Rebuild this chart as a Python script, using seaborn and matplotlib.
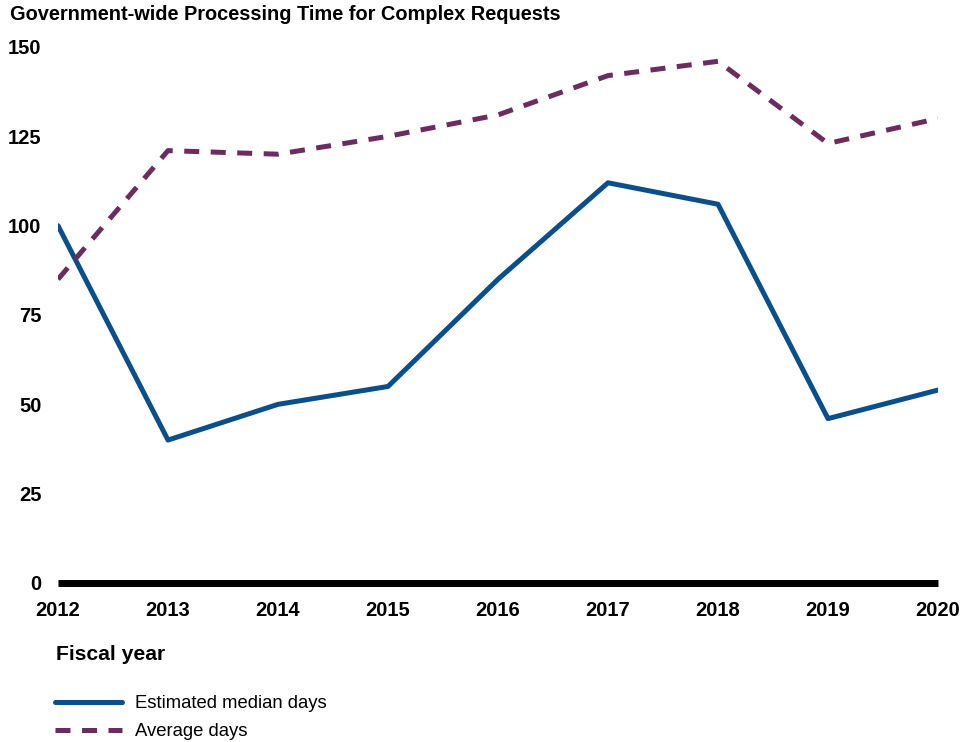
import numpy as np
import pandas as pd
import matplotlib
matplotlib.use("Agg")
import matplotlib.pyplot as plt
import seaborn as sns

# values
years = [2012, 2013, 2014, 2015, 2016, 2017, 2018, 2019, 2020]
median_days = [100, 40, 50, 55, 85, 112, 106, 46, 54]
average_days = [85, 121, 120, 125, 131, 142, 146, 123, 130]
series_names = ["Estimated median days", "Average days"]
y_ticks = [0, 25, 50, 75, 100, 125, 150]

df = pd.DataFrame({
    "year": years * 2,
    "days": median_days + average_days,
    "series": [series_names[0]] * len(years) + [series_names[1]] * len(years),
})

sns.set_theme(style="white")
plt.rcParams["font.family"] = ["Liberation Sans", "DejaVu Sans"]
plt.rcParams["text.color"] = "black"

fig = plt.figure(figsize=(9.78, 7.42), dpi=100)
ax = fig.add_axes([58 / 978, 1 - 583 / 742, 880 / 978, 536 / 742])

palette = {series_names[0]: "#0b4f8a", series_names[1]: "#6b2c5f"}
dashes = {series_names[0]: "", series_names[1]: (3, 2.3)}
sns.lineplot(data=df, x="year", y="days", hue="series", style="series",
             palette=palette, dashes=dashes, linewidth=3.6, ax=ax,
             legend=True)

ax.set_xlim(2012, 2020)
ax.set_ylim(0, 150)
ax.set_xticks(years)
ax.set_yticks(y_ticks)
ax.set_xlabel("")
ax.set_ylabel("")
for s in ["top", "right", "left"]:
    ax.spines[s].set_visible(False)
ax.spines["bottom"].set_linewidth(5)
ax.spines["bottom"].set_color("black")
ax.spines["bottom"].set_capstyle("butt")
ax.tick_params(axis="both", length=0, labelsize=14.5, colors="black")
ax.tick_params(axis="x", pad=13)
ax.tick_params(axis="y", pad=12)
for lbl in ax.get_xticklabels() + ax.get_yticklabels():
    lbl.set_fontweight("bold")

fig.text(10 / 978, 1 - 15 / 742, "Government-wide Processing Time for Complex Requests",
         fontsize=14.4, fontweight="bold", va="center", ha="left", color="black")
fig.text(56 / 978, 1 - 655 / 742, "Fiscal year", fontsize=15.2,
         fontweight="bold", va="center", ha="left", color="black")

handles, labels = ax.get_legend_handles_labels()
ax.get_legend().remove()
leg = fig.legend(handles, labels, loc="upper left",
                 bbox_to_anchor=(48 / 978, 1 - 688 / 742), frameon=False,
                 fontsize=13.3, handlelength=3.6, handletextpad=0.7,
                 labelspacing=0.6, borderaxespad=0)
for line in leg.get_lines():
    line.set_linewidth(3.6)
for t in leg.get_texts():
    t.set_color("black")

fig.savefig("out.png", dpi=100)
